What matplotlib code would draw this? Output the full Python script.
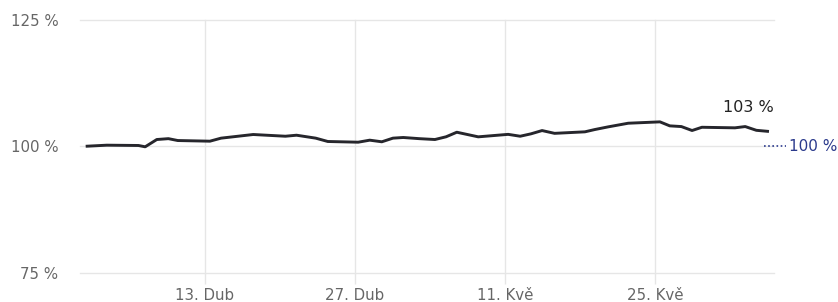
import matplotlib
matplotlib.use("Agg")
import matplotlib.pyplot as plt
import pandas as pd

# performance relative to start (%)
dates = [
    "2020-04-02 00:00", "2020-04-03 20:00", "2020-04-06 19:00", "2020-04-07 10:00",
    "2020-04-08 12:00", "2020-04-09 14:00", "2020-04-10 11:00", "2020-04-13 11:00",
    "2020-04-14 12:00", "2020-04-17 12:00", "2020-04-20 12:00", "2020-04-21 13:00",
    "2020-04-23 08:00", "2020-04-24 11:00", "2020-04-27 07:00", "2020-04-28 09:00",
    "2020-04-29 12:00", "2020-04-30 13:00", "2020-05-01 12:00", "2020-05-03 00:00",
    "2020-05-04 11:00", "2020-05-05 12:00", "2020-05-06 12:00", "2020-05-08 12:00",
    "2020-05-11 07:00", "2020-05-12 10:00", "2020-05-13 10:00", "2020-05-14 11:00",
    "2020-05-15 15:00", "2020-05-18 11:00", "2020-05-19 09:00", "2020-05-20 15:00",
    "2020-05-22 12:00", "2020-05-25 11:00", "2020-05-26 09:00", "2020-05-27 11:00",
    "2020-05-28 11:00", "2020-05-29 09:00", "2020-06-01 11:00", "2020-06-02 10:00",
    "2020-06-03 11:00", "2020-06-04 12:00",
]
values = [
    100.06, 100.26, 100.2, 99.94,
    101.38, 101.55, 101.18, 101.05,
    101.65, 102.37, 102.03, 102.23,
    101.65, 100.99, 100.85, 101.25,
    100.93, 101.65, 101.78, 101.55,
    101.38, 101.92, 102.82, 101.91,
    102.4, 102.03, 102.5, 103.15,
    102.6, 102.9, 103.35, 103.88,
    104.6, 104.87, 104.08, 103.94,
    103.16, 103.8, 103.69, 103.94,
    103.2, 103.0,
]
tick_dates = ["2020-04-13", "2020-04-27", "2020-05-11", "2020-05-25"]
tick_labels = ["13. Dub", "27. Dub", "11. Kvě", "25. Kvě"]
y_ticks = [75, 100, 125]
y_labels = ["75 %", "100 %", "125 %"]
last_label = "103 %"
base_label = "100 %"

x = pd.to_datetime(dates)
grid_c = "#e6e6e6"
text_c = "#666666"
line_c = "#26262c"
blue = "#2b3a8c"

fig = plt.figure(figsize=(8.38, 3.02), dpi=100)
ax = fig.add_axes([80 / 838, 29 / 302, 694 / 838, 253 / 302])

ax.plot(x, values, color=line_c, lw=2.1, solid_joinstyle="round", zorder=3)

ax.set_ylim(75, 125)
ax.set_xlim(pd.Timestamp("2020-04-01 08:00"), pd.Timestamp("2020-06-05 02:30"))
ax.set_yticks(y_ticks)
ax.set_yticklabels(y_labels)
ax.set_xticks(pd.to_datetime(tick_dates))
ax.set_xticklabels(tick_labels)

ax.grid(True, color=grid_c, lw=1)
ax.set_axisbelow(True)
for gl in ax.get_ygridlines() + ax.get_xgridlines():
    gl.set_clip_on(False)
for s in ax.spines.values():
    s.set_visible(False)
ax.tick_params(axis="y", length=0, pad=15.5, labelsize=10.8, labelcolor=text_c)
ax.tick_params(axis="x", length=8, width=1, color=grid_c, pad=3,
               labelsize=10.8, labelcolor=text_c)

# last value label
ax.annotate(last_label, xy=(x[-1], values[-1]), xytext=(-14, 17),
            textcoords="offset points", ha="center", va="center",
            fontsize=11.5, color="#222222")

# baseline marker on the right
ax.plot([0.985, 1.017], [100, 100], transform=ax.get_yaxis_transform(),
        color=blue, lw=1.2, ls=(0, (1, 1.5)), clip_on=False)
ax.text(1.021, 100, base_label, transform=ax.get_yaxis_transform(),
        ha="left", va="center", fontsize=11, color=blue, clip_on=False)

plt.savefig("out.png", dpi=100)
